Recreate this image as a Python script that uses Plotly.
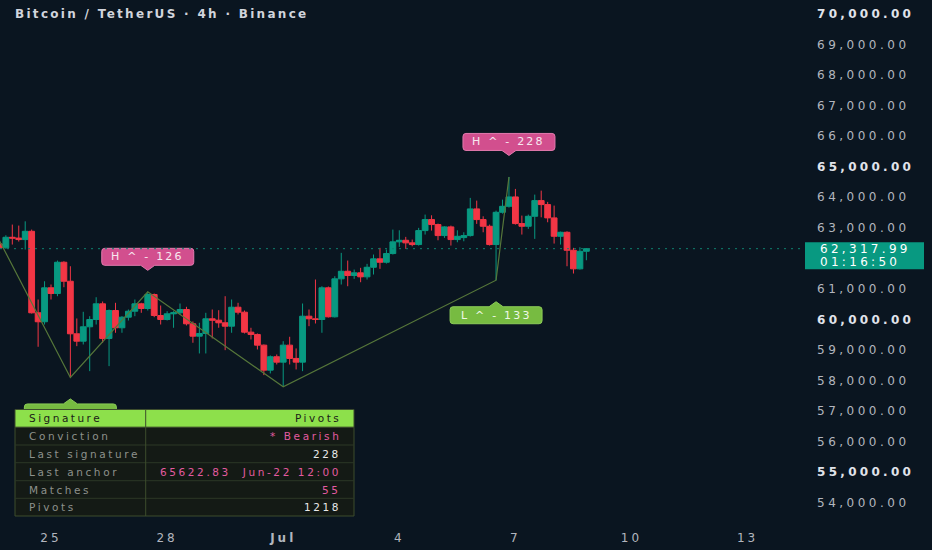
import plotly.graph_objects as go
import pandas as pd

# ---------------- data (BTC/USDT, 4h candles) ----------------
start_time = "2024-06-23 16:00"
opens = [62475, 62345, 62691, 62665, 62616, 62887, 60219, 59925, 61037, 60850,
         61874, 61252, 59532, 59290, 59761, 60000, 60513, 59379, 60294, 59729,
         60075, 60271, 60513, 60360, 60818, 60131, 60000, 60186, 60219, 60327,
         59859, 59454, 59542, 60023, 59977, 59892, 59781, 60402, 60239, 59585,
         59510, 59160, 58342, 58780, 58604, 59160, 58725, 58604, 60108, 60023,
         60000, 61037, 60088, 61331, 61579, 61439, 61527, 61396, 61710, 61985,
         61874, 62158, 62541, 62593, 62508, 62453, 62910, 63270, 63107, 62747,
         63031, 62616, 62680, 62747, 63620, 63270, 63051, 62453, 63509, 63705,
         64012, 63139, 63051, 63378, 63891, 63761, 63326, 62724, 62855, 62266,
         61658, 62233]
highs = [62583, 62757, 63107, 63074, 63214, 62943, 60654, 61252, 61145, 61929,
         61906, 61743, 60033, 60252, 60108, 60729, 60589, 60327, 60546, 60108,
         60327, 60654, 60546, 60906, 60850, 60458, 60271, 60271, 60523, 60415,
         59935, 59892, 60219, 60327, 60304, 60762, 60654, 60546, 60294, 59729,
         59542, 59182, 58823, 58855, 59290, 59434, 59052, 60523, 60327, 61308,
         61089, 61079, 61416, 62181, 61929, 61635, 61691, 61821, 62126, 62345,
         62289, 62943, 62920, 62704, 62616, 62999, 63434, 63411, 63139, 63051,
         63074, 62920, 62855, 63980, 63891, 63378, 63107, 63564, 63924, 64666,
         64274, 63401, 63434, 64088, 64218, 63849, 63728, 62878, 62887, 62345,
         62364, 62338]
lows = [62289, 62322, 62453, 62551, 62289, 60196, 59107, 59836, 60654, 60762,
        61056, 58103, 59127, 59182, 58309, 59836, 59238, 58473, 59565, 59565,
        59967, 60108, 60219, 60294, 60075, 59836, 59967, 59729, 60164, 59804,
        59238, 58888, 58888, 59379, 59729, 58996, 59565, 60164, 59542, 59346,
        59019, 58179, 58234, 58528, 57799, 58528, 58365, 58309, 59781, 59869,
        59565, 60065, 60065, 61145, 61089, 61331, 61220, 61308, 61472, 61658,
        61831, 62126, 62377, 62312, 62397, 62420, 62780, 62910, 62593, 62672,
        62420, 62528, 62560, 62714, 63129, 62855, 62420, 61285, 63466, 63662,
        63107, 62780, 62966, 62639, 63345, 63182, 62485, 62453, 61743, 61504,
        61635, 61939]
closes = [62345, 62691, 62665, 62616, 62887, 60219, 59925, 61037, 60850, 61874,
          61252, 59532, 59290, 59761, 60000, 60513, 59379, 60294, 59729, 60075,
          60271, 60513, 60360, 60818, 60131, 60000, 60186, 60219, 60327, 59859,
          59454, 59542, 60023, 59977, 59892, 59781, 60402, 60239, 59585, 59510,
          59160, 58342, 58780, 58604, 59160, 58725, 58604, 60108, 60023, 60000,
          61037, 60088, 61331, 61579, 61439, 61527, 61396, 61710, 61985, 61874,
          62158, 62541, 62593, 62508, 62453, 62910, 63270, 63107, 62747, 63031,
          62616, 62724, 62747, 63620, 63270, 63051, 62453, 63509, 63705, 64012,
          63139, 63051, 63378, 63891, 63761, 63326, 62724, 62855, 62266, 61658,
          62233, 62317.99]

# zigzag pivots (candle index, kind)
pivot_idx = [0, 11, 23, 44, 77, 79]
pivot_kind = ["H", "L", "H", "L", "L", "H"]

# pivot labels: (candle index, kind, text)
label_idx = [23, 79, 77, 11]
label_kind = ["H", "H", "L", "L"]
label_text = ["H ^ - 126", "H ^ - 228", "L ^ - 133", ""]

x_tick_dates = ["2024-06-25", "2024-06-28", "2024-07-01", "2024-07-04",
                "2024-07-07", "2024-07-10", "2024-07-13"]
x_tick_labels = ["25", "28", "<b>Jul</b>", "4", "7", "10", "13"]

y_tick_values = [54000, 55000, 56000, 57000, 58000, 59000, 60000, 61000,
                 63000, 64000, 65000, 66000, 67000, 68000, 69000, 70000]

last_price = 62317.99
countdown = "01:16:50"
title_text = "Bitcoin / TetherUS · 4h · Binance"

table_header = ["Signature", "Pivots"]
table_keys = ["Conviction", "Last signature", "Last anchor", "Matches", "Pivots"]
table_vals = ["* Bearish", "228", "65622.83\u00a0\u00a0Jun-22 12:00", "55", "1218"]
table_val_pink = [True, False, True, True, False]

# ---------------- layout constants ----------------
W, H = 932, 550
MR, MB = 128, 25
PW, PH = W - MR, H - MB
Y_RANGE = [53273, 70458]
X_RANGE = ["2024-06-23 16:22", "2024-07-14 10:58"]

BG = "#0a1520"
UP = "#089981"
DOWN = "#f23645"
PINK = "#d24f8e"
PINK_LINE = "#e47aae"
LGREEN = "#77bb41"
HGREEN = "#8de04b"
FONT = "DejaVu Sans"

times = pd.date_range(start_time, periods=len(opens), freq="4h")
t0, t1 = pd.Timestamp(X_RANGE[0]), pd.Timestamp(X_RANGE[1])


def t2px(t):
    return (pd.Timestamp(t) - t0) / (t1 - t0) * PW


def v2py(v):
    return (Y_RANGE[1] - v) / (Y_RANGE[1] - Y_RANGE[0]) * PH


def P(x, y):
    return f"{x / PW:.5f},{1 - y / PH:.5f}"


def sp(text, ls):
    return f'<span style="letter-spacing:{ls}px">{text}</span>'


fig = go.Figure()

fig.add_trace(go.Candlestick(
    x=times, open=opens, high=highs, low=lows, close=closes,
    increasing=dict(line=dict(color=UP, width=1), fillcolor=UP),
    decreasing=dict(line=dict(color=DOWN, width=1), fillcolor=DOWN),
    whiskerwidth=0, showlegend=False, hoverinfo="skip",
))

pv_x = [times[i] for i in pivot_idx]
pv_y = [highs[i] if k == "H" else lows[i] for i, k in zip(pivot_idx, pivot_kind)]
fig.add_trace(go.Scatter(x=pv_x, y=pv_y, mode="lines",
                         line=dict(color="#56773a", width=1.2),
                         showlegend=False, hoverinfo="skip"))

shapes = []
annotations = []


def label_shape(cx, tip, up, fill, line, w=92, h=17, ph=5, pw=7, r=3):
    l, rr = cx - w / 2, cx + w / 2
    if up:
        top = tip + ph
        bot = top + h
        d = (f"M{P(l + r, top)} L{P(cx - pw, top)} L{P(cx, tip)} L{P(cx + pw, top)} "
             f"L{P(rr - r, top)} Q{P(rr, top)} {P(rr, top + r)} L{P(rr, bot - r)} "
             f"Q{P(rr, bot)} {P(rr - r, bot)} L{P(l + r, bot)} Q{P(l, bot)} {P(l, bot - r)} "
             f"L{P(l, top + r)} Q{P(l, top)} {P(l + r, top)} Z")
    else:
        bot = tip - ph
        top = bot - h
        d = (f"M{P(l + r, top)} L{P(rr - r, top)} Q{P(rr, top)} {P(rr, top + r)} "
             f"L{P(rr, bot - r)} Q{P(rr, bot)} {P(rr - r, bot)} L{P(cx + pw, bot)} "
             f"L{P(cx, tip)} L{P(cx - pw, bot)} L{P(l + r, bot)} Q{P(l, bot)} {P(l, bot - r)} "
             f"L{P(l, top + r)} Q{P(l, top)} {P(l + r, top)} Z")
    shapes.append(dict(type="path", xref="paper", yref="paper", path=d,
                       fillcolor=fill, line=dict(color=line, width=1), layer="above"))
    return (top + bot) / 2


for i, k, txt in zip(label_idx, label_kind, label_text):
    cx = t2px(times[i])
    if k == "H":
        tip = v2py(highs[i]) - 21.5
        cy = label_shape(cx, tip, False, PINK, PINK_LINE)
        tcol = "#f7e8f0"
    else:
        tip = v2py(lows[i]) + 21.5
        cy = label_shape(cx, tip, True, LGREEN, "#8ccc58")
        tcol = "#eef8e6"
    if txt:
        annotations.append(dict(xref="paper", yref="paper", x=cx / PW, y=1 - cy / PH,
                                text=sp(txt, 2.2), showarrow=False, xanchor="center",
                                yanchor="middle", font=dict(family=FONT, size=11, color=tcol)))

# ---- signature table ----
TL, TR, TD = 15, 354, 145.7
row_edges = [409.5, 427.3, 445, 462.7, 480.7, 498.3, 516]
BORDER = "#3d4d2c"
shapes.append(dict(type="rect", xref="paper", yref="paper",
                   x0=TL / PW, x1=TR / PW, y0=1 - row_edges[1] / PH, y1=1 - row_edges[0] / PH,
                   fillcolor=HGREEN, line=dict(color=BORDER, width=1), layer="above"))
shapes.append(dict(type="rect", xref="paper", yref="paper",
                   x0=TL / PW, x1=TR / PW, y0=1 - row_edges[-1] / PH, y1=1 - row_edges[1] / PH,
                   fillcolor="#141a15", line=dict(color=BORDER, width=1), layer="above"))
for yy in row_edges[2:-1]:
    shapes.append(dict(type="line", xref="paper", yref="paper",
                       x0=TL / PW, x1=TR / PW, y0=1 - yy / PH, y1=1 - yy / PH,
                       line=dict(color="#2c3826", width=1), layer="above"))
shapes.append(dict(type="line", xref="paper", yref="paper",
                   x0=TD / PW, x1=TD / PW, y0=1 - row_edges[-1] / PH, y1=1 - row_edges[0] / PH,
                   line=dict(color=BORDER, width=1), layer="above"))

row_c = [(row_edges[j] + row_edges[j + 1]) / 2 for j in range(len(row_edges) - 1)]
annotations.append(dict(xref="paper", yref="paper", x=27 / PW, y=1 - row_c[0] / PH,
                        text=sp(table_header[0], 2.5), showarrow=False, xanchor="left",
                        yanchor="middle", font=dict(family=FONT, size=10.5, color="#1b2118")))
annotations.append(dict(xref="paper", yref="paper", x=343 / PW, y=1 - row_c[0] / PH,
                        text=sp(table_header[1], 2.5), showarrow=False, xanchor="right",
                        yanchor="middle", font=dict(family=FONT, size=10.5, color="#1b2118")))
for j, (kk, vv, pk) in enumerate(zip(table_keys, table_vals, table_val_pink)):
    yc = 1 - row_c[j + 1] / PH
    annotations.append(dict(xref="paper", yref="paper", x=27 / PW, y=yc,
                            text=sp(kk, 2.6), showarrow=False, xanchor="left",
                            yanchor="middle", font=dict(family=FONT, size=10.5, color="#8d918c")))
    annotations.append(dict(xref="paper", yref="paper", x=343 / PW, y=yc,
                            text=sp(vv, 2.6), showarrow=False, xanchor="right",
                            yanchor="middle",
                            font=dict(family=FONT, size=10.5, color="#e35ba0" if pk else "#e8e8e8")))

# ---- last price line + box ----
shapes.append(dict(type="line", xref="paper", yref="y", x0=0, x1=1,
                   y0=last_price, y1=last_price,
                   line=dict(color="#0f8270", width=1, dash="2px,5px"), layer="above"))
py_last = v2py(last_price)
shapes.append(dict(type="rect", xref="paper", yref="paper",
                   x0=805 / PW, x1=924 / PW, y0=1 - (py_last + 20.5) / PH, y1=1 - (py_last - 6.5) / PH,
                   fillcolor=UP, line=dict(width=0), layer="above"))
annotations.append(dict(xref="paper", yref="paper", x=818 / PW, y=1 - (py_last + 0.5) / PH,
                        text=sp(f"{last_price:,.2f}", 3.3), showarrow=False, xanchor="left",
                        yanchor="middle", font=dict(family=FONT, size=12, color="#ffffff")))
annotations.append(dict(xref="paper", yref="paper", x=818 / PW, y=1 - (py_last + 13) / PH,
                        text=sp(countdown, 3.3), showarrow=False, xanchor="left",
                        yanchor="middle", font=dict(family=FONT, size=12, color="#ffffff")))

# ---- title ----
annotations.append(dict(xref="paper", yref="paper", x=13 / PW, y=1 - 14 / PH,
                        text=sp(f"<b>{title_text}</b>", 2.3), showarrow=False, xanchor="left",
                        yanchor="middle", font=dict(family=FONT, size=12, color="#d1d4dc")))

y_tick_text = []
for v in y_tick_values:
    s = f"{v:,.2f}"
    if v % 5000 == 0:
        y_tick_text.append(sp(f'<b><span style="fill:#e0e3ea">{s}</span></b>', 3.3))
    else:
        y_tick_text.append(sp(s, 3.5))

fig.update_layout(
    width=W, height=H,
    margin=dict(l=0, r=MR, t=0, b=MB),
    paper_bgcolor=BG, plot_bgcolor=BG,
    boxgap=0.1, boxgroupgap=0,
    showlegend=False,
    shapes=shapes, annotations=annotations,
    xaxis=dict(type="date", range=X_RANGE, rangeslider=dict(visible=False),
               showgrid=False, zeroline=False, showline=False, ticks="",
               tickvals=x_tick_dates, ticktext=[sp(t, 3) for t in x_tick_labels],
               tickfont=dict(family=FONT, size=12, color="#b2b5be"),
               ticklabelstandoff=4, fixedrange=True),
    yaxis=dict(side="right", range=Y_RANGE, showgrid=False, zeroline=False,
               showline=False, ticks="", tickvals=y_tick_values, ticktext=y_tick_text,
               tickfont=dict(family=FONT, size=12, color="#b2b5be"),
               ticklabelstandoff=12, fixedrange=True),
)

fig.write_html("out.html", config={"displayModeBar": False},
               post_script="document.body.style.margin='0';document.body.style.background='" + BG + "';")
